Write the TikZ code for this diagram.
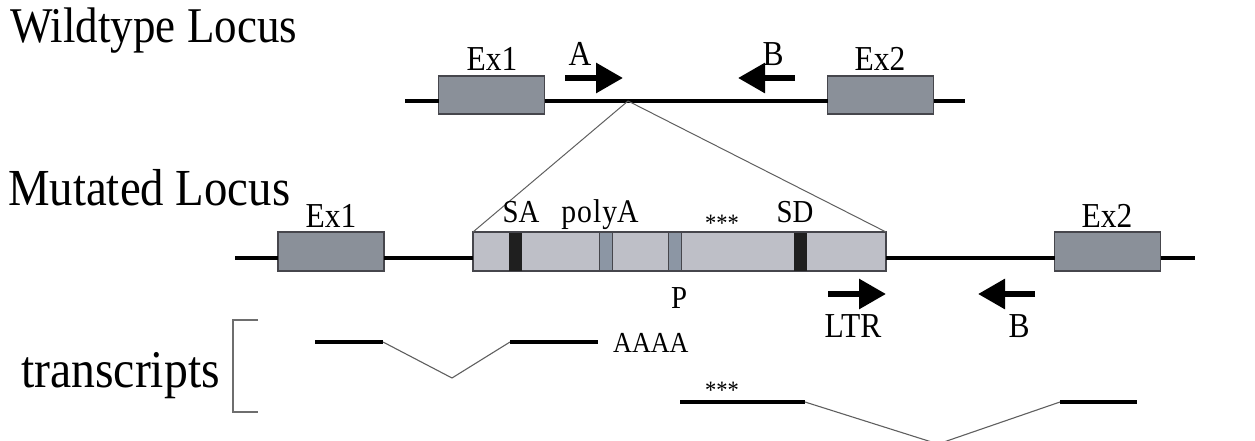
\documentclass[tikz,border=0pt]{standalone}
\usepackage{fontspec}
\setmainfont{Liberation Serif}[FakeStretch=0.9]
\usetikzlibrary{arrows.meta}
\definecolor{exonfill}{RGB}{138,144,153}
\definecolor{insertfill}{RGB}{190,191,199}
\definecolor{sitefill}{RGB}{140,150,164}
\definecolor{boxedge}{RGB}{70,70,76}
\definecolor{thingray}{RGB}{95,95,95}
\definecolor{bracketgray}{RGB}{110,110,110}
\begin{document}
\begin{tikzpicture}[x=1pt,y=-1pt,
  exonbox/.style={draw=boxedge,line width=1.3pt,fill=exonfill,minimum width=106pt,minimum height=38pt,inner sep=0pt,outer sep=0pt},
  insertbox/.style={draw=boxedge,line width=1.3pt,fill=insertfill,minimum width=413pt,minimum height=39pt,inner sep=0pt,outer sep=0pt},
  sitebar/.style={minimum width=13pt,minimum height=38pt,inner sep=0pt,outer sep=0pt},
  locus/.style={line width=4.5pt},
  exonline/.style={line width=3.8pt},
  splice/.style={line width=1.1pt,draw=thingray},
  zoomline/.style={line width=1pt,draw=thingray},
  primer/.style={line width=6pt,-{Triangle[length=27pt,width=29pt]}},
  heading/.style={font=\fontsize{50}{55}\selectfont,inner sep=0pt,anchor=base west},
  lab/.style={font=\fontsize{35}{38}\selectfont,inner sep=0pt,anchor=base},
  smalllab/.style={font=\fontsize{32}{35}\selectfont,inner sep=0pt,anchor=base},
  stars/.style={font=\fontsize{25}{27}\selectfont,inner sep=0pt,anchor=base},
]
\useasboundingbox (0,0) rectangle (1255,441);

% ---------- wildtype locus ----------
\node[heading] (wthead) at (10,43) {Wildtype Locus};
\coordinate (wtL) at (405,101);
\coordinate (wtR) at (965,101);
\coordinate (wtcut) at (628,101);
\node[exonbox] (wex1) at (491.5,95) {};
\node[exonbox] (wex2) at (880.5,95) {};
\draw[locus] (wtL) -- (wex1.west |- wtL);
\draw[locus] (wex1.east |- wtL) -- (wex2.west |- wtL);
\draw[locus] (wex2.east |- wtL) -- (wtR);
\node[lab] (wex1lab) at (492,71) {Ex1};
\node[lab] (wex2lab) at (880,71) {Ex2};

% primers A and B
\coordinate (pAs) at (565,78);
\coordinate (pAe) at (623,78);
\coordinate (pBs) at (795,78);
\coordinate (pBe) at (738,78);
\draw[primer] (pAs) -- (pAe);
\draw[primer] (pBs) -- (pBe);
\node[lab] (plabA) at (580,66) {A};
\node[lab] (plabB) at (773,66) {B};

% ---------- mutated locus ----------
\node[heading,font=\fontsize{52}{57}\selectfont] (muthead) at (8,205) {Mutated Locus};
\coordinate (mutL) at (235,258);
\coordinate (mutR) at (1195,258);
\node[exonbox,minimum height=39pt] (mex1) at (331,251.5) {};
\node[insertbox] (ins) at (679.5,251.5) {};
\node[exonbox,minimum height=39pt] (mex2) at (1107.5,251.5) {};
\draw[locus] (mutL) -- (mex1.west |- mutL);
\draw[locus] (mex1.east |- mutL) -- (ins.west |- mutL);
\draw[locus] (ins.east |- mutL) -- (mex2.west |- mutL);
\draw[locus] (mex2.east |- mutL) -- (mutR);

% elements of the trap cassette
\node[sitebar,fill=black!88] (sa) at (515,251.5) {};
\node[sitebar,fill=sitefill,draw=boxedge,line width=1pt] (pa) at (605.5,251.5) {};
\node[sitebar,fill=sitefill,draw=boxedge,line width=1pt] (pp) at (675,251.5) {};
\node[sitebar,fill=black!88] (sd) at (800,251.5) {};

% insertion site
\draw[zoomline] (wtcut) -- (ins.north west);
\draw[zoomline] (wtcut) -- (ins.north east);

\node[lab] (mex1lab) at (331,227) {Ex1};
\node[lab] (mex2lab) at (1107,227) {Ex2};
\node[smalllab] (salab) at (521,222) {SA};
\node[smalllab,font=\fontsize{33}{35}\selectfont] (palab) at (600,222) {p\kern1pt o\kern1pt l\kern1pt yA};
\node[stars] (starsA) at (722,231) {***};
\node[smalllab] (sdlab) at (795,222) {SD};
\node[smalllab] (plab) at (679,308) {P};

% primers LTR and B
\coordinate (pLs) at (828,294);
\coordinate (pLe) at (886,294);
\coordinate (pB2s) at (1035,294);
\coordinate (pB2e) at (978,294);
\draw[primer] (pLs) -- (pLe);
\draw[primer] (pB2s) -- (pB2e);
\node[lab] (ltrlab) at (853,337) {LTR};
\node[lab] (b2lab) at (1019,337) {B};

% ---------- transcripts ----------
\node[heading,font=\fontsize{53}{57}\selectfont] (trhead) at (21,387) {transcripts};
\coordinate (brA) at (258,320);
\coordinate (brB) at (233,320);
\coordinate (brC) at (233,412);
\coordinate (brD) at (258,412);
\draw[line width=1.5pt,bracketgray] (brA) -- (brB) -- (brC) -- (brD);

% readthrough to the polyA site
\coordinate (t1a) at (315,342);
\coordinate (t1b) at (383,342);
\coordinate (t1v) at (452,378);
\coordinate (t1c) at (510,342);
\coordinate (t1d) at (598,342);
\draw[exonline] (t1a) -- (t1b);
\draw[splice] (t1b) -- (t1v) -- (t1c);
\draw[exonline] (t1c) -- (t1d);
\node[smalllab,anchor=base west,font=\fontsize{29}{31}\selectfont] (polyAtail) at (613,352) {AAAA};

% transcript from the internal promoter
\coordinate (t2a) at (680,402);
\coordinate (t2b) at (805,402);
\coordinate (t2v) at (938,444);
\coordinate (t2c) at (1060,402);
\coordinate (t2d) at (1137,402);
\draw[exonline] (t2a) -- (t2b);
\draw[splice] (t2b) -- (t2v) -- (t2c);
\draw[exonline] (t2c) -- (t2d);
\node[stars] (starsB) at (722,398) {***};
\end{tikzpicture}
\end{document}
